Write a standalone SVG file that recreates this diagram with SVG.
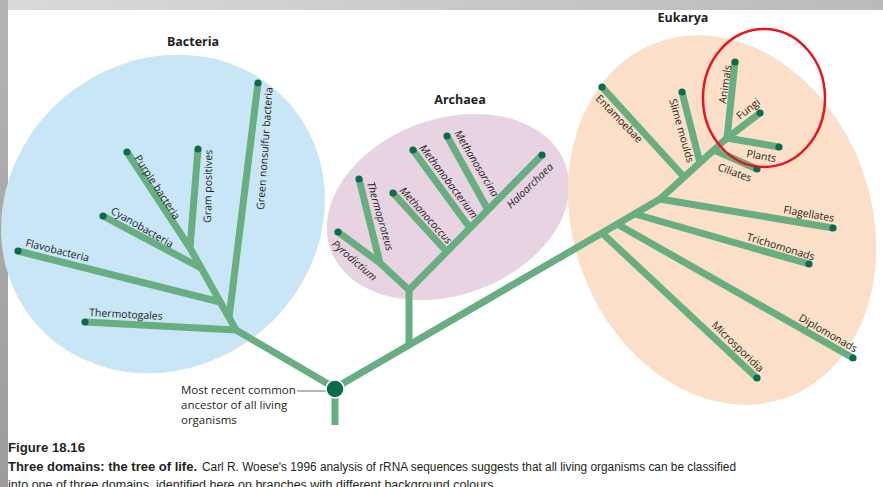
<svg xmlns="http://www.w3.org/2000/svg" width="883" height="487" viewBox="0 0 883 487">
  <defs>
    <linearGradient id="topband" x1="0" y1="0" x2="1" y2="0">
      <stop offset="0" stop-color="#dadada"/>
      <stop offset="1" stop-color="#bababa"/>
    </linearGradient>
    <linearGradient id="leftband" x1="0" y1="0" x2="0" y2="1">
      <stop offset="0" stop-color="#b4b4b4"/>
      <stop offset="1" stop-color="#9c9c9c"/>
    </linearGradient>
  </defs>
  <style>
    .br { fill: none; stroke: #68ae80; stroke-width: 7; stroke-linejoin: round; stroke-linecap: butt; }
    .dot { fill: #0b6b4e; }
    .lbl { font-family: "Open Sans", "DejaVu Sans", sans-serif; font-size: 10.5px; fill: #231f20; }
    .it { font-style: italic; }
    .title { font-family: "Open Sans", "DejaVu Sans", sans-serif; font-size: 12.5px; font-weight: 700; fill: #231f20; text-anchor: middle; }
    .root { font-family: "Open Sans", "DejaVu Sans", sans-serif; font-size: 11.5px; fill: #231f20; }
    .cap { font-family: "Liberation Sans", Arial, sans-serif; font-size: 12.5px; fill: #231f20; }
  </style>

  <rect x="0" y="0" width="883" height="487" fill="#ffffff"/>
  <rect x="0" y="0" width="883" height="10" fill="url(#topband)"/>
  <rect x="0" y="0" width="8" height="487" fill="url(#leftband)"/>

  <g id="bacteria">
    <ellipse cx="163" cy="214" rx="168" ry="153" transform="rotate(-40 163 214)" fill="#c9e6f7"/>
    <text class="title" x="193" y="46">Bacteria</text>
  </g>
  <g id="archaea">
    <ellipse cx="448" cy="207" rx="125" ry="88" transform="rotate(-20 448 207)" fill="#e8d3e3"/>
    <text class="title" x="460" y="104">Archaea</text>
  </g>
  <g id="eukarya">
    <ellipse cx="722" cy="220" rx="149" ry="189" transform="rotate(-20 722 220)" fill="#fbdfc8"/>
    <text class="title" x="683" y="22">Eukarya</text>
  </g>

  <g id="connectors">
    <path class="br" d="M335,388 L236,330"/>
    <path class="br" d="M236,330 L85,322"/>
    <path class="br" d="M236,330 L190,248"/>
    <path class="br" d="M229,318 L258,83"/>
    <path class="br" d="M220,302 L18,251"/>
    <path class="br" d="M201,268 L103,216"/>
    <path class="br" d="M190,248 L198,149"/>
    <path class="br" d="M190,248 L127,152"/>

    <path class="br" d="M409,346 L409,290"/>
    <path class="br" d="M409,290 L380,263 L338,232"/>
    <path class="br" d="M380,263 L359,179"/>
    <path class="br" d="M409,290 L542,155"/>
    <path class="br" d="M447,252 L393,193"/>
    <path class="br" d="M470,228 L413,150"/>
    <path class="br" d="M488,210 L447,136"/>

    <path class="br" d="M335,388 L602,233 L660,199 L727,138"/>
    <path class="br" d="M602,233 L757,378"/>
    <path class="br" d="M617,224 L853,358"/>
    <path class="br" d="M635,214 L809,264"/>
    <path class="br" d="M660,199 L833,228"/>
    <path class="br" d="M684,177 L602,87"/>
    <path class="br" d="M700,163 L682,92"/>
    <path class="br" d="M714,150 L757,169"/>
    <path class="br" d="M727,138 L735,62"/>
    <path class="br" d="M727,138 L760,113"/>
    <path class="br" d="M727,138 L779,147"/>

    <path class="br" d="M335,398 L335,425"/>
    <path d="M297,391 L326,391" stroke="#6d6d6d" stroke-width="1" fill="none"/>
  </g>

  <g id="n-green-nonsulfur"><circle class="dot" cx="258" cy="83" r="3.6"/><text class="lbl" transform="translate(264,210) rotate(-86)">Green nonsulfur bacteria</text></g>
  <g id="n-gram-positives"><circle class="dot" cx="198" cy="149" r="3.6"/><text class="lbl" transform="translate(211,223) rotate(-89)">Gram positives</text></g>
  <g id="n-purple-bacteria"><circle class="dot" cx="127" cy="152" r="3.6"/><text class="lbl" transform="translate(134,158) rotate(57)">Purple bacteria</text></g>
  <g id="n-cyanobacteria"><circle class="dot" cx="103" cy="216" r="3.6"/><text class="lbl" transform="translate(110,213) rotate(30)">Cyanobacteria</text></g>
  <g id="n-flavobacteria"><circle class="dot" cx="18" cy="251" r="3.6"/><text class="lbl" transform="translate(25,246) rotate(14)">Flavobacteria</text></g>
  <g id="n-thermotogales"><circle class="dot" cx="85" cy="322" r="3.6"/><text class="lbl" transform="translate(89,316) rotate(3)">Thermotogales</text></g>

  <g id="n-pyrodictium"><circle class="dot" cx="338" cy="232" r="3.6"/><text class="lbl it" transform="translate(331,245) rotate(41)">Pyrodictium</text></g>
  <g id="n-thermoproteus"><circle class="dot" cx="359" cy="179" r="3.6"/><text class="lbl it" transform="translate(367,183) rotate(74)">Thermoproteus</text></g>
  <g id="n-methanococcus"><circle class="dot" cx="393" cy="193" r="3.6"/><text class="lbl it" transform="translate(399,191) rotate(48)">Methanococcus</text></g>
  <g id="n-methanobacterium"><circle class="dot" cx="413" cy="150" r="3.6"/><text class="lbl it" transform="translate(419,148) rotate(53)">Methanobacterium</text></g>
  <g id="n-methanosarcina"><circle class="dot" cx="447" cy="136" r="3.6"/><text class="lbl it" transform="translate(454,133) rotate(59)">Methanosarcina</text></g>
  <g id="n-haloarchaea"><circle class="dot" cx="542" cy="155" r="3.6"/><text class="lbl it" transform="translate(511,209) rotate(-44)">Haloarchaea</text></g>

  <g id="n-entamoebae"><circle class="dot" cx="602" cy="87" r="3.6"/><text class="lbl" transform="translate(595,99) rotate(46)">Entamoebae</text></g>
  <g id="n-slime-moulds"><circle class="dot" cx="682" cy="92" r="3.6"/><text class="lbl" transform="translate(669,100) rotate(74)">Slime moulds</text></g>
  <g id="n-animals"><circle class="dot" cx="735" cy="62" r="3.6"/><text class="lbl" transform="translate(726,104) rotate(-82)">Animals</text></g>
  <g id="n-fungi"><circle class="dot" cx="760" cy="113" r="3.6"/><text class="lbl" transform="translate(740,120) rotate(-38)">Fungi</text></g>
  <g id="n-plants"><circle class="dot" cx="779" cy="147" r="3.6"/><text class="lbl" transform="translate(746,157) rotate(10)">Plants</text></g>
  <g id="n-ciliates"><circle class="dot" cx="757" cy="169" r="3.6"/><text class="lbl" transform="translate(717,170) rotate(20)">Ciliates</text></g>
  <g id="n-flagellates"><circle class="dot" cx="833" cy="228" r="3.6"/><text class="lbl" transform="translate(783,213) rotate(10)">Flagellates</text></g>
  <g id="n-trichomonads"><circle class="dot" cx="809" cy="264" r="3.6"/><text class="lbl" transform="translate(746,240) rotate(17)">Trichomonads</text></g>
  <g id="n-diplomonads"><circle class="dot" cx="853" cy="358" r="3.6"/><text class="lbl" transform="translate(798,320) rotate(30)">Diplomonads</text></g>
  <g id="n-microsporidia"><circle class="dot" cx="757" cy="378" r="3.6"/><text class="lbl" transform="translate(711,326) rotate(44)">Microsporidia</text></g>

  <g id="n-root">
    <circle cx="335" cy="389" r="9" fill="#0b6b4e" stroke="#ffffff" stroke-width="1.5"/>
    <text class="root" x="181" y="394">Most recent common</text>
    <text class="root" x="181" y="409">ancestor of all living</text>
    <text class="root" x="181" y="424">organisms</text>
  </g>

  <g id="highlight">
    <ellipse cx="764" cy="98" rx="61" ry="69" fill="none" stroke="#e8141c" stroke-width="2.5"/>
  </g>

  <g id="caption">
    <text class="cap" x="8" y="452" font-weight="700" font-size="13.5" textLength="77" lengthAdjust="spacingAndGlyphs">Figure 18.16</text>
    <text class="cap" x="8" y="471" font-weight="700" textLength="189" lengthAdjust="spacingAndGlyphs">Three domains: the tree of life.</text>
    <text class="cap" x="202" y="471" textLength="534" lengthAdjust="spacingAndGlyphs">Carl R. Woese's 1996 analysis of rRNA sequences suggests that all living organisms can be classified</text>
    <text class="cap" x="8" y="489" textLength="489" lengthAdjust="spacingAndGlyphs">into one of three domains, identified here on branches with different background colours.</text>
  </g>
</svg>
